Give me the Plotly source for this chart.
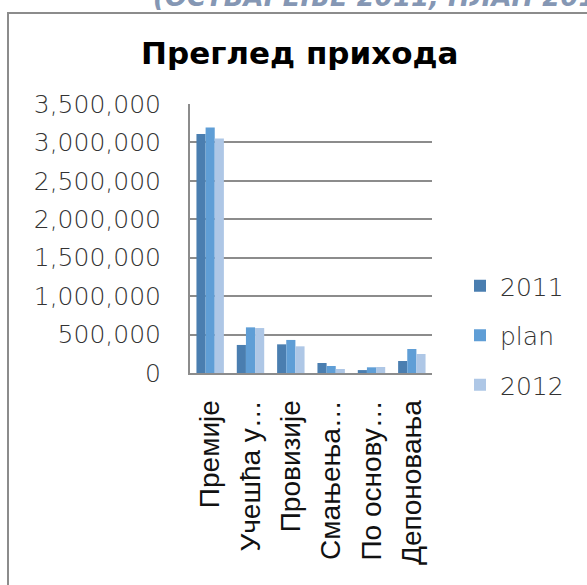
import plotly.graph_objects as go

# Income overview: realised 2011, plan and 2012, by income category
categories = ["Премије", "Учешћа у…", "Провизије", "Смањења…", "По основу…", "Депоновања"]
series_names = ["2011", "plan", "2012"]
values_2011 = [3110000, 365000, 373000, 130000, 38000, 156000]
values_plan = [3195000, 594000, 430000, 91000, 74000, 312000]
values_2012 = [3050000, 585000, 347000, 52000, 78000, 247000]
series_colors = ["#4A7EB0", "#5F9ED6", "#AEC7E6"]
y_ticks = [0, 500000, 1000000, 1500000, 2000000, 2500000, 3000000, 3500000]

W, H = 587, 585
L, R, T, B = 190, 155, 104, 212
pw, ph = W - L - R, H - T - B


def px_x(px):
    return (px - L) / pw


def px_y(py):
    return (H - B - py) / ph


light = dict(family="DejaVu Sans Light, DejaVu Sans", size=25, color="#333333", weight=200)

fig = go.Figure()
for name, vals, col in zip(series_names, [values_2011, values_plan, values_2012], series_colors):
    fig.add_trace(go.Bar(
        x=categories, y=vals, name=name, legendgroup=name,
        marker=dict(color=col, line=dict(width=0)),
    ))

fig.update_layout(
    width=W, height=H,
    margin=dict(l=L, r=R, t=T, b=B, autoexpand=False),
    paper_bgcolor="white", plot_bgcolor="white",
    barmode="group", bargap=0.32, bargroupgap=0,
    showlegend=True,
    legend=dict(
        x=px_x(460), y=px_y(263), xanchor="left", yanchor="top",
        font=light, tracegroupgap=14, itemwidth=30,
        bgcolor="rgba(0,0,0,0)", borderwidth=0,
    ),
    xaxis=dict(
        tickangle=-90, showgrid=False, showline=True, linecolor="#8C8C8C",
        linewidth=2, ticks="", ticklabelstandoff=14,
        tickfont=dict(family="Liberation Sans", size=28, color="#111111"),
        automargin=False,
    ),
    yaxis=dict(
        range=[0, 3500000], tickvals=y_ticks, tickformat=",",
        showgrid=True, gridcolor="#8C8C8C", gridwidth=1.5,
        showline=True, linecolor="#8C8C8C", linewidth=2,
        ticks="", ticklabelstandoff=22, tickfont=light,
        zeroline=False, automargin=False,
    ),
)

# Chart frame (runs past the right and bottom page edge)
fig.add_shape(type="rect", xref="paper", yref="paper",
              x0=px_x(8), x1=px_x(640), y0=px_y(640), y1=px_y(13),
              line=dict(color="#8C8C8C", width=2), fillcolor="rgba(0,0,0,0)", layer="below")

# Heading of the page section above the chart
fig.add_annotation(text="(ОСТВАРЕЊЕ 2011, ПЛАН 2012)", xref="paper", yref="paper",
                   x=px_x(151), y=px_y(14), xanchor="left", yanchor="bottom",
                   showarrow=False,
                   font=dict(family="DejaVu Sans", size=26, color="#8597B4",
                             weight="bold", style="italic"))

# Chart title
fig.add_annotation(text="Преглед прихода", xref="paper", yref="paper",
                   x=px_x(300), y=px_y(53.5), xanchor="center", yanchor="middle",
                   showarrow=False,
                   font=dict(family="DejaVu Sans", size=31, color="#000000", weight="bold"))

fig.write_html("out.html")
